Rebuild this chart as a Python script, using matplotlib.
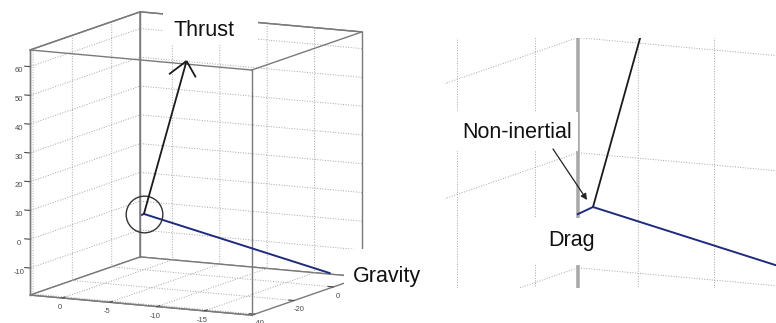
import numpy as np
import matplotlib
matplotlib.use("Agg")
import matplotlib.pyplot as plt
from matplotlib.patches import Rectangle, FancyArrowPatch
from mpl_toolkits.mplot3d import proj3d

plt.rcParams['font.family'] = ['Liberation Sans', 'DejaVu Sans']
plt.rcParams['axes.unicode_minus'] = False

# ---------------- data: force vectors from a common origin ----------------
origin = [0.0, 0.0, 0.0]
thrust = [-4.5, 0.0, 54.5]
gravity = [-19.6, 0.0, -14.7]
drag = [0.2, 0.0, -0.37]

# main view axes
x_lim = [3.4, -20.0]
y_lim = [-41.5, 14.5]
z_lim = [-19.4, 65.8]
x_ticks = [0, -5, -10, -15]
y_ticks = [-40, -20, 0]
z_ticks = [-10, 0, 10, 20, 30, 40, 50, 60]

# zoomed view axes (x8 around the origin)
zoom_x_lim = [1.8, -1.5]
zoom_y_lim = [-3.0, 7.7]
zoom_z_lim = [-7.0, 8.0]
zoom_x_ticks = [1, 0, -1]
zoom_y_ticks = [0, 5]
zoom_z_ticks = [-5, 0, 5]
zoom_factor = 8

# ---------------- style ----------------
ELEV, AZIM = 10.2, -62.9
W, H = 776, 323
EDGE = '#7a7a7a'
GRID = '#a4a4a4'
TICKC = '#4a4a4a'
BLACK = '#1a1a1a'
BLUE = '#1f2b7e'
PADS = {'x': -4.5, 'y': -4.5, 'z': -2.5}

fig = plt.figure(figsize=(W / 100, H / 100), dpi=100)


def make_axes(S, zorder):
    ax = fig.add_axes([0, 0, S / W, S / H], projection='3d', proj_type='ortho')
    ax.set_zorder(zorder)
    return ax


def style(ax, xl, yl, zl, xt, yt, zt, labels, edge_color, edge_lw):
    ax.view_init(elev=ELEV, azim=AZIM)
    ax.set_xlim(*xl)
    ax.set_ylim(*yl)
    ax.set_zlim(*zl)
    ax.set_xticks(xt)
    ax.set_yticks(yt)
    ax.set_zticks(zt)
    ax.patch.set_visible(False)
    for name, axis in (('x', ax.xaxis), ('y', ax.yaxis), ('z', ax.zaxis)):
        axis.set_pane_color('white')
        axis.pane.set_edgecolor(edge_color)
        axis.pane.set_linewidth(edge_lw)
        axis._axinfo['grid'].update(color=GRID, linestyle=':', linewidth=0.7)
        axis.set_tick_params(labelsize=5.5, colors=TICKC, width=0.8, pad=PADS[name])
        if labels:
            axis.line.set_color(edge_color)
            axis.line.set_linewidth(edge_lw)
            axis._axinfo['tick'].update(inward_factor=0.0, outward_factor=0.3)
        else:
            axis.set_major_formatter(plt.NullFormatter())
            axis.line.set_color((0, 0, 0, 0))
            axis._axinfo['tick'].update(inward_factor=0.0, outward_factor=0.0)
    # back-left vertical box edge (the pane outlines are open polygons)
    ax.plot([xl[0], xl[0]], [yl[1], yl[1]], [zl[0], zl[1]],
            color=edge_color, lw=edge_lw)


def seg(ax, vec, **kw):
    ax.plot([origin[0], origin[0] + vec[0]],
            [origin[1], origin[1] + vec[1]],
            [origin[2], origin[2] + vec[2]], **kw)


ax2 = make_axes(900, 0)
ax1 = make_axes(430, 2)

style(ax1, x_lim, y_lim, z_lim, x_ticks, y_ticks, z_ticks, True, EDGE, 1.0)
style(ax2, zoom_x_lim, zoom_y_lim, zoom_z_lim, zoom_x_ticks, zoom_y_ticks,
      zoom_z_ticks, False, '#a8a8a8', 1.8)
ax1.zaxis._axinfo['juggled'] = (1, 2, 0)

asp1 = np.array([1.03, 1.0, 1.03])
rng1 = np.array([abs(np.diff(x_lim)[0]), abs(np.diff(y_lim)[0]), abs(np.diff(z_lim)[0])])
rng2 = np.array([abs(np.diff(zoom_x_lim)[0]), abs(np.diff(zoom_y_lim)[0]), abs(np.diff(zoom_z_lim)[0])])
asp2 = asp1 * rng2 / rng1
ax1.set_box_aspect(asp1, zoom=1.0)
ax2.set_box_aspect(asp2, zoom=1.0)

# remaining box edges of the main view (box on)
x0, x1 = x_lim
y0, y1 = y_lim
z0, z1 = z_lim
for xs, ys, zs in [([x1, x1], [y0, y0], [z0, z1]),
                   ([x0, x1], [y0, y0], [z1, z1]),
                   ([x1, x1], [y0, y1], [z1, z1]),
                   ([x0, x0], [y0, y0], [z0, z1]),
                   ([x1, x1], [y1, y1], [z0, z1]),
                   ([x0, x0], [y0, y1], [z1, z1]),
                   ([x0, x1], [y1, y1], [z1, z1])]:
    ax1.plot(xs, ys, zs, color=EDGE, lw=1.0)

# vectors
ax1.quiver(*origin, *thrust, arrow_length_ratio=0.1, color=BLACK, linewidth=1.3)
seg(ax1, gravity, color=BLUE, lw=1.4)
seg(ax1, drag, color=BLUE, lw=1.4)
ax1.plot([origin[0]], [origin[1]], [origin[2]], marker='o', ms=26.4,
         mfc='none', mec='#333333', mew=1.0, ls='none')

seg(ax2, thrust, color=BLACK, lw=1.3)
seg(ax2, gravity, color=BLUE, lw=1.4)
seg(ax2, drag, color=BLUE, lw=1.4)


# ---------------- layout by projection ----------------
def px(ax, pts):
    p = np.asarray(pts, float)
    xs, ys, _ = proj3d.proj_transform(p[:, 0], p[:, 1], p[:, 2], ax.get_proj())
    return ax.transData.transform(np.column_stack([xs, ys]))


def shift_axes(ax, d):
    pos = ax.get_position(original=True)
    ax.set_position([pos.x0 + d[0] / W, pos.y0 + d[1] / H, pos.width, pos.height])


fig.canvas.draw()
corners = [(x0, y0, z0), (x1, y1, z1)]
At = np.array([30.0, H - 295.0])
Bt = np.array([362.0, H - 32.0])
a, b = px(ax1, corners)
f1 = np.hypot(*(Bt - At)) / np.hypot(*(b - a))
ax1.set_box_aspect(asp1, zoom=f1)
fig.canvas.draw()
a, b = px(ax1, corners)
shift_axes(ax1, ((At + Bt) - (a + b)) / 2)
fig.canvas.draw()

unit = [origin, [origin[0], origin[1], origin[2] + 10]]
p1 = px(ax1, unit)
p2 = px(ax2, unit)
f2 = zoom_factor * np.hypot(*(p1[1] - p1[0])) / np.hypot(*(p2[1] - p2[0]))
ax2.set_box_aspect(asp2, zoom=f2)
fig.canvas.draw()
o2 = px(ax2, [origin])[0]
shift_axes(ax2, np.array([593.0, H - 207.0]) - o2)

# ---------------- masks & labels ----------------
def rect(x, y, w, h, z):
    fig.add_artist(Rectangle((x / W, 1 - (y + h) / H), w / W, h / H,
                             transform=fig.transFigure, facecolor='white',
                             edgecolor='none', zorder=z))

px0, py_top, py_bot = 445, 38, 288
rect(0, 0, px0, H, 1)
rect(px0, 0, W - px0, py_top, 1)
rect(px0, py_bot, W - px0, H - py_bot, 1)

# label backgrounds
rect(163, 0, 95, 45, 4)
rect(344, 249, 94, 50, 4)
rect(440, 112, 138, 39, 4)
rect(530, 218, 72, 47, 4)

TXT = dict(fontsize=15.5, color='#111111', va='baseline', ha='left', zorder=5)
fig.text(173 / W, 1 - 36 / H, 'Thrust', **TXT)
fig.text(353 / W, 1 - 282 / H, 'Gravity', **TXT)
fig.text(462 / W, 1 - 137.5 / H, 'Non-inertial', **TXT)
fig.text(548 / W, 1 - 246 / H, 'Drag', **TXT)

fig.add_artist(FancyArrowPatch((553 / W, 1 - 149 / H), (587 / W, 1 - 200 / H),
                               transform=fig.transFigure, arrowstyle='-|>',
                               mutation_scale=9, lw=0.9, color='#222222',
                               shrinkA=0, shrinkB=0, zorder=6))

fig.savefig('out.png', dpi=100)
